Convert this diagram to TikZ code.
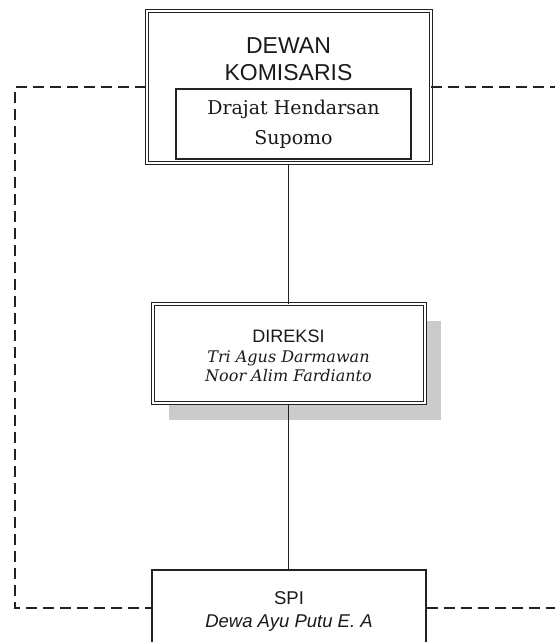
\documentclass[tikz,border=0pt]{standalone}
\usepackage{fontspec}
\setmainfont{DejaVu Serif}
\setsansfont{Liberation Sans}
\usepackage{tikz}
\usetikzlibrary{positioning, shadows}
\definecolor{ink}{HTML}{1A1A1A}
\definecolor{garis}{HTML}{222222}
\definecolor{bayang}{HTML}{CBCBCB}

\begin{document}
\begin{tikzpicture}[x=1pt, y=-1pt,
    dobel/.style={draw=garis, double, double distance=2pt, line width=1pt, fill=white},
    kotak/.style={draw=garis, line width=1.1pt, fill=white},
    judul/.style={font=\sffamily, text=ink, align=center},
    nama/.style={text=ink, align=center},
    putus/.style={draw=garis, line width=1.1pt, dash pattern=on 11pt off 6pt}]
  \clip (0,0) rectangle (555,642);
  \fill[white] (0,0) rectangle (555,642);
  % boxes
  \node[dobel, minimum width=284pt, minimum height=152pt] (dewan) at (288.5,87) {};
  \node[judul, font=\sffamily\fontsize{23}{27.5}\selectfont] (dewanjudul) at (288.5,59) {DEWAN\\KOMISARIS};
  \node[kotak, minimum width=235pt, minimum height=70pt, nama,
        font=\fontsize{19}{30}\selectfont] (komisaris) at (293.5,124) {Drajat Hendarsan\\Supomo};
  \node[dobel, minimum width=272pt, minimum height=99pt,
        drop shadow={shadow xshift=16pt, shadow yshift=-17pt, fill=bayang, opacity=1}] (direksi) at (288.5,353.5) {};
  \node[nama, font=\fontsize{16}{19.5}\selectfont] (direksinama) at (288.5,356)
    {{\sffamily\fontsize{18}{19.5}\selectfont DIREKSI}\\\textit{Tri Agus Darmawan}\\\textit{Noor Alim Fardianto}};
  \node[kotak, minimum width=274pt, minimum height=76pt] (spi) at (289,608) {};
  \node[judul, font=\sffamily\fontsize{18.5}{23}\selectfont] (spinama) at (289,611) {SPI\\\textit{Dewa Ayu Putu E. A}};
  % lines
  \draw[garis, line width=1.1pt] (dewan.south) -- (direksi.north);
  \draw[garis, line width=1.1pt] (direksi.south) -- (direksi.south |- spi.north);
  \coordinate (kiribawah) at (15,608);
  \coordinate (kananatas) at (555,87);
  \coordinate (kananbawah) at (555,608);
  \draw[putus] (dewan.west) -| (kiribawah) -- (spi.west);
  \draw[putus] (dewan.east) -- (kananatas);
  \draw[putus] (spi.east) -- (kananbawah);
\end{tikzpicture}
\end{document}
